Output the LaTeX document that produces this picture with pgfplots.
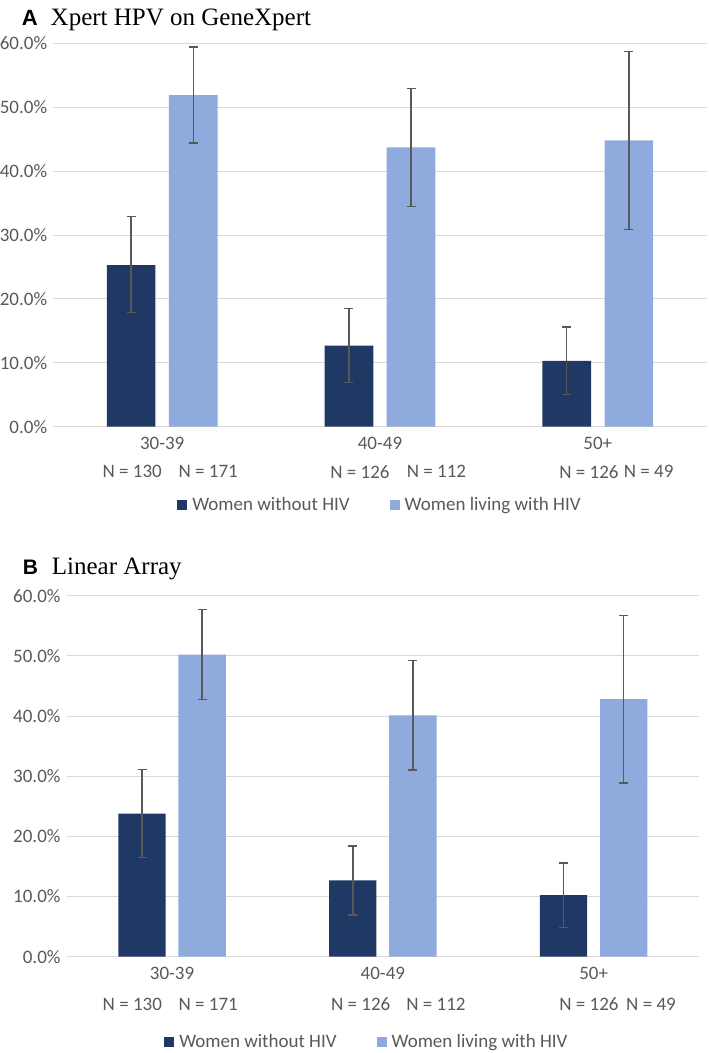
\documentclass[border=0pt]{standalone}
\usepackage{pgfplots}
\pgfplotsset{compat=1.18}
\usepackage{fontspec}
\setmainfont{Carlito}
\newfontfamily\timesf{Liberation Serif}
\newfontfamily\arialf{Liberation Sans}
\definecolor{darkbar}{HTML}{203864}
\definecolor{lightbar}{HTML}{8FAADC}
\definecolor{gridgray}{HTML}{D9D9D9}
\definecolor{textgray}{HTML}{595959}
\newcommand\tf{\fontsize{19}{22}\selectfont}

% x = category index (0: 30-39, 1: 40-49, 2: 50+) shifted by -/+0.1425 for the two series
\pgfplotstableread{
x y ep em
-0.1425 25.3 7.6 7.4
0.8575 12.7 5.8 5.8
1.8575 10.3 5.3 5.3
}\Adark
\pgfplotstableread{
x y ep em
0.1425 51.9 7.5 7.5
1.1425 43.7 9.2 9.2
2.1425 44.8 13.9 13.9
}\Alight
\pgfplotstableread{
x y ep em
-0.1425 23.8 7.3 7.3
0.8575 12.7 5.7 5.8
1.8575 10.25 5.35 5.35
}\Bdark
\pgfplotstableread{
x y ep em
0.1425 50.2 7.5 7.4
1.1425 40.1 9.1 9.1
2.1425 42.8 13.9 13.9
}\Blight

\pgfplotsset{
  panel/.style={
    anchor=south west, scale only axis,
    xmin=-0.5, xmax=2.5, ymin=0, ymax=60,
    axis line style={draw=none},
    ytick={0,10,...,60},
    yticklabels={0.0\%,10.0\%,20.0\%,30.0\%,40.0\%,50.0\%,60.0\%},
    xtick={0,1,2}, xticklabels={30-39,40-49,50+},
    major tick length=0pt,
    ymajorgrids, grid style={draw=gridgray, line width=1pt},
    tick label style={font=\tf, text=textgray},
    yticklabel style={anchor=east, inner sep=0pt, xshift=-6pt},
    xticklabel style={anchor=center, inner sep=0pt, yshift=-16.6pt},
    legend columns=2,
    legend style={draw=none, fill=none, font=\tf, text=textgray, anchor=center,
      /tikz/every odd column/.append style={column sep=3pt},
      /tikz/every even column/.append style={column sep=38pt}},
    legend image code/.code={\fill[##1] (0pt,-5pt) rectangle (10pt,5pt);},
  },
  ebar/.style={
    error bars/.cd,
      y dir=both, y explicit,
      error bar style={draw=textgray, line width=1.4pt},
      error mark options={draw=textgray, line width=1.4pt, mark size=4.5pt, rotate=90},
  },
}

\begin{document}
\begin{tikzpicture}
\useasboundingbox (0pt,0pt) rectangle (709pt,-1053pt);

% ---------- Panel A ----------
\node[anchor=base west, inner sep=0pt] at (21.7pt,-25pt) {\arialf\bfseries\fontsize{22}{26}\selectfont A};
\node[anchor=base west, inner sep=0pt] at (50.5pt,-25pt) {\timesf\fontsize{25}{30}\selectfont Xpert HPV on GeneXpert};
\begin{axis}[panel, at={(53.3pt,-426.7pt)}, width=653.4pt, height=383.4pt,
  legend style={at={(0.5,-0.204)}}]
\addplot[ybar, bar width=48.6pt, bar shift=0pt, fill=darkbar, draw=none, ebar]
  table[x=x, y=y, y error plus=ep, y error minus=em] {\Adark};
\addlegendentry{Women without HIV}
\addplot[ybar, bar width=48.6pt, bar shift=0pt, fill=lightbar, draw=none, ebar]
  table[x=x, y=y, y error plus=ep, y error minus=em] {\Alight};
\addlegendentry{Women living with HIV}
\end{axis}
\begin{scope}[every node/.style={font=\tf, text=textgray, inner sep=0pt, anchor=center}]
\node at (132.2pt,-471.7pt) {N = 130};
\node at (208.2pt,-471.7pt) {N = 171};
\node at (360.0pt,-471.7pt) {N = 126};
\node at (436.5pt,-471.7pt) {N = 112};
\node at (589.0pt,-471.7pt) {N = 126};
\node at (648.6pt,-471.7pt) {N = 49};
\end{scope}

% ---------- Panel B ----------
\node[anchor=base west, inner sep=0pt] at (22.7pt,-574pt) {\arialf\bfseries\fontsize{21}{25}\selectfont B};
\node[anchor=base west, inner sep=0pt] at (51.7pt,-574pt) {\timesf\fontsize{25}{30}\selectfont Linear Array};
\begin{axis}[panel, at={(66.7pt,-956.7pt)}, width=632.3pt, height=361pt,
  legend style={at={(0.4748,-0.2355)}}]
\addplot[ybar, bar width=47.3pt, bar shift=0pt, fill=darkbar, draw=none, ebar]
  table[x=x, y=y, y error plus=ep, y error minus=em] {\Bdark};
\addlegendentry{Women without HIV}
\addplot[ybar, bar width=47.3pt, bar shift=0pt, fill=lightbar, draw=none, ebar]
  table[x=x, y=y, y error plus=ep, y error minus=em] {\Blight};
\addlegendentry{Women living with HIV}
\end{axis}
\begin{scope}[every node/.style={font=\tf, text=textgray, inner sep=0pt, anchor=center}]
\node at (132.3pt,-1004pt) {N = 130};
\node at (208.2pt,-1004pt) {N = 171};
\node at (360.7pt,-1004pt) {N = 126};
\node at (436.0pt,-1004pt) {N = 112};
\node at (589.0pt,-1004pt) {N = 126};
\node at (651.0pt,-1004pt) {N = 49};
\end{scope}
\end{tikzpicture}
\end{document}
